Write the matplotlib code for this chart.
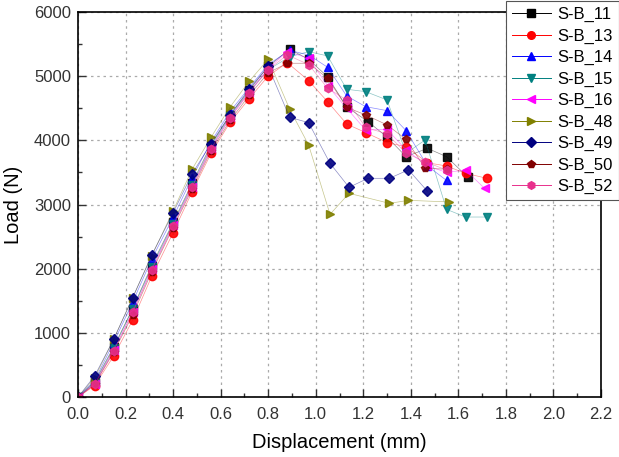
import numpy as np
import matplotlib
matplotlib.use("Agg")
import matplotlib.pyplot as plt
from matplotlib.ticker import MultipleLocator

plt.rcParams['font.family'] = ['Liberation Sans', 'DejaVu Sans']

# marker positions (mm) and loads (N)
x_rise = [0.0, 0.07, 0.15, 0.23, 0.31, 0.40, 0.48, 0.56, 0.64, 0.72, 0.80]

x11 = x_rise + [0.89, 0.97, 1.05, 1.13, 1.22, 1.30, 1.38, 1.47, 1.55, 1.64]
y11 = [0, 240, 780, 1380, 2050, 2720, 3330, 3930, 4400, 4780, 5150,
       5420, 5260, 4990, 4520, 4290, 4050, 3745, 3875, 3745, 3424]

x13 = x_rise + [0.88, 0.97, 1.05, 1.13, 1.21, 1.30, 1.38, 1.47, 1.55, 1.63, 1.72]
y13 = [0, 180, 640, 1200, 1880, 2560, 3200, 3800, 4280, 4650, 5000,
       5210, 4930, 4600, 4254, 4120, 3965, 3900, 3650, 3600, 3486, 3408]

x14 = x_rise + [0.89, 0.97, 1.05, 1.13, 1.21, 1.30, 1.38, 1.47, 1.55]
y14 = [0, 260, 850, 1480, 2150, 2800, 3420, 3980, 4450, 4820, 5180,
       5400, 5330, 5137, 4690, 4524, 4462, 4150, 3600, 3375]

x15 = x_rise + [0.89, 0.97, 1.05, 1.13, 1.21, 1.30, 1.38, 1.46, 1.55, 1.63, 1.72]
y15 = [0, 220, 760, 1370, 2020, 2700, 3300, 3900, 4380, 4760, 5100,
       5300, 5381, 5314, 4795, 4758, 4628, 3797, 4005, 2925, 2805, 2805]

x16 = x_rise + [0.88, 0.97, 1.05, 1.13, 1.21, 1.30, 1.38, 1.47, 1.55, 1.63, 1.71]
y16 = [0, 210, 730, 1330, 1990, 2680, 3280, 3880, 4360, 4750, 5120,
       5380, 5280, 4850, 4500, 4160, 4170, 3850, 3600, 3500, 3537, 3252]

x48 = x_rise + [0.89, 0.97, 1.06, 1.14, 1.31, 1.39, 1.56]
y48 = [0, 300, 900, 1550, 2200, 2900, 3550, 4050, 4520, 4920, 5262,
       4488, 3927, 2847, 3174, 3018, 3065, 3040]

x49 = x_rise + [0.89, 0.97, 1.06, 1.14, 1.22, 1.31, 1.39, 1.47]
y49 = [0, 330, 900, 1550, 2210, 2870, 3480, 3950, 4400, 4800, 5150,
       4358, 4275, 3642, 3268, 3408, 3408, 3540, 3205]

x50 = x_rise + [0.88, 0.97, 1.05, 1.13, 1.21, 1.30, 1.38, 1.46, 1.55]
y50 = [0, 200, 700, 1280, 1950, 2640, 3240, 3840, 4310, 4700, 5050,
       5200, 5200, 4965, 4514, 4395, 4240, 4013, 3564, 3550]

x52 = x_rise + [0.88, 0.97, 1.05, 1.13, 1.21, 1.30, 1.38, 1.46, 1.55]
y52 = [0, 200, 720, 1320, 1980, 2660, 3270, 3870, 4350, 4740, 5100,
       5330, 5180, 4810, 4628, 4200, 4100, 3800, 3667, 3537]

names = ['S-B_11', 'S-B_13', 'S-B_14', 'S-B_15', 'S-B_16',
         'S-B_48', 'S-B_49', 'S-B_50', 'S-B_52']
xs = [x11, x13, x14, x15, x16, x48, x49, x50, x52]
ys = [y11, y13, y14, y15, y16, y48, y49, y50, y52]
colors = ['#000000', '#ff0000', '#0000ff', '#008080', '#ff00ff',
          '#808000', '#000080', '#800000', '#e8308c']
markers = ['s', 'o', '^', 'v', '<', '>', 'D', 'p', 'h']

fig = plt.figure(figsize=(6.19, 4.57), dpi=100)
ax = fig.add_axes([0.126, 0.131, 0.845, 0.843])

for x, y, c, m, n in zip(xs, ys, colors, markers, names):
    ax.plot(x, y, color=c, lw=0.5, alpha=0.45)
    ax.plot(x, y, ls='none', marker=m, color=c, ms=6 if m != 'D' else 5,
            mec=c, alpha=0.9)
    ax.plot([], [], color=c, lw=0.7, marker=m, ms=5.5, label=n)

ax.set_xlim(0, 2.2)
ax.set_ylim(0, 6000)
ax.xaxis.set_major_locator(MultipleLocator(0.2))
ax.xaxis.set_minor_locator(MultipleLocator(0.1))
ax.yaxis.set_major_locator(MultipleLocator(1000))
ax.yaxis.set_minor_locator(MultipleLocator(500))
ax.set_xticklabels([f'{v:.1f}' for v in ax.get_xticks()])
ax.tick_params(which='both', direction='in', top=False, right=False,
               labelsize=12, colors='#333333', labelcolor='#333333')
ax.tick_params(which='major', length=6, width=1)
ax.tick_params(which='minor', length=3, width=1)
ax.tick_params(axis='x', pad=7)
ax.tick_params(axis='y', pad=5)
ax.grid(True, which='major', ls=(0, (2, 3)), color='#aaaaaa', lw=0.9)
for s in ax.spines.values():
    s.set_linewidth(1.2)

ax.set_xlabel('Displacement (mm)', fontsize=14.5, labelpad=8)
ax.set_ylabel('Load (N)', fontsize=14.5, labelpad=8)

leg = fig.legend(loc='upper left', bbox_to_anchor=(0.818, 0.997),
                 fontsize=12, handlelength=2.3, handletextpad=0.4,
                 labelspacing=0.38, borderpad=0.35, fancybox=False,
                 framealpha=1, edgecolor='#555555', borderaxespad=0)
leg.get_frame().set_linewidth(0.8)

fig.savefig('out.png', dpi=100)
